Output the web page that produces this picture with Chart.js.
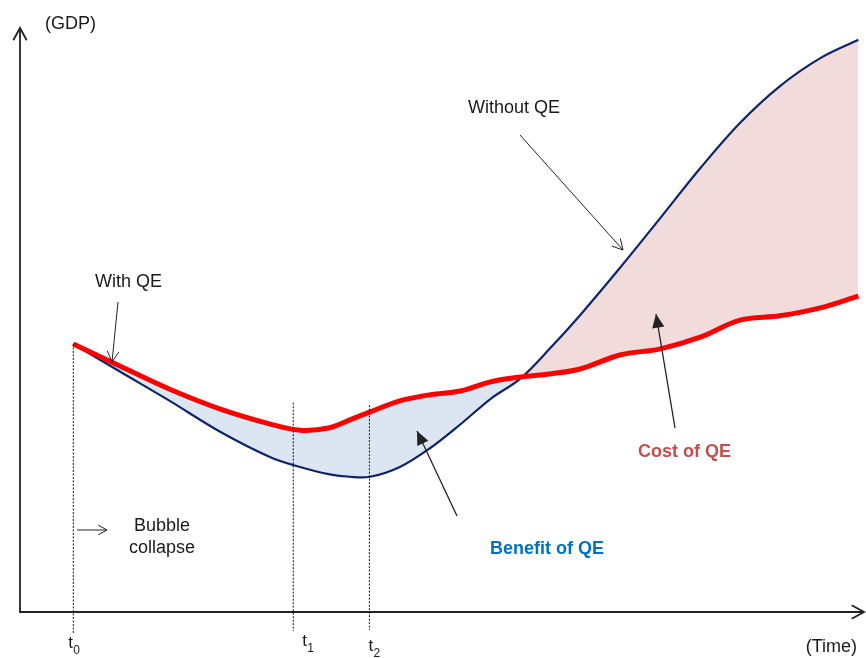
<!DOCTYPE html>
<html>
<head>
<meta charset="utf-8">
<script src="https://cdn.jsdelivr.net/npm/chart.js@4.4.1/dist/chart.umd.min.js"></script>
<style>
  html, body { margin: 0; padding: 0; background: #fff; }
  #wrap { width: 866px; height: 658px; position: relative; }
</style>
</head>
<body>
<div id="wrap"><canvas id="qeChart"></canvas></div>
<script>
// time axis (0..100) and GDP (0..100)
const timePoints = [6.3, 11.8, 17.7, 23.6, 29.6, 33.1, 36.6, 39.0, 41.4, 44.9, 48.5, 52.0, 55.6, 59.1, 62.6, 66.2, 70.9, 75.7, 80.4, 85.1, 89.8, 94.6, 99.1];
const withQE = [43.8, 40.2, 36.4, 33.2, 30.7, 29.7, 30.1, 31.4, 32.7, 34.5, 35.5, 36.1, 37.6, 38.4, 38.9, 39.7, 42.0, 43.0, 44.9, 47.7, 48.4, 49.7, 51.6];
const withoutQE = [43.8, 39.3, 34.5, 29.5, 25.3, 23.7, 22.5, 22.1, 22.1, 23.7, 26.8, 30.6, 34.8, 38.1, 43.0, 48.5, 56.2, 64.4, 72.5, 79.9, 85.9, 90.5, 93.5];
// t0, t1, t2 markers on the time axis and where their guide lines start
const markerLabels = ["0", "1", "2"];
const markerTimes = [6.3, 32.3, 41.3];
const markerTops = [43.8, 34.2, 33.8];

const toXY = (vals) => vals.map((v, i) => ({ x: timePoints[i], y: v }));

const FONT = "'Liberation Sans', Arial, sans-serif";

function arrowHead(ctx, x1, y1, x2, y2, size, filled) {
  const a = Math.atan2(y2 - y1, x2 - x1);
  const spread = filled ? 0.42 : 0.5;
  ctx.beginPath();
  ctx.moveTo(x2 - size * Math.cos(a - spread), y2 - size * Math.sin(a - spread));
  ctx.lineTo(x2, y2);
  ctx.lineTo(x2 - size * Math.cos(a + spread), y2 - size * Math.sin(a + spread));
  if (filled) {
    ctx.closePath();
    ctx.fill();
  } else {
    ctx.stroke();
  }
}

function arrow(ctx, x1, y1, x2, y2, opts) {
  const o = Object.assign({ color: "#222", width: 1, size: 11, filled: false }, opts);
  ctx.save();
  ctx.strokeStyle = o.color;
  ctx.fillStyle = o.color;
  ctx.lineWidth = o.width;
  ctx.beginPath();
  ctx.moveTo(x1, y1);
  ctx.lineTo(x2, y2);
  ctx.stroke();
  arrowHead(ctx, x1, y1, x2, y2, o.size, o.filled);
  ctx.restore();
}

function text(ctx, str, x, y, opts) {
  const o = Object.assign({ size: 18, weight: "normal", color: "#1a1a1a", align: "left" }, opts);
  ctx.save();
  ctx.font = o.weight + " " + o.size + "px " + FONT;
  ctx.fillStyle = o.color;
  ctx.textAlign = o.align;
  ctx.textBaseline = "alphabetic";
  ctx.fillText(str, x, y);
  ctx.restore();
}

// label positions for t0 / t1 / t2 (offset from guide line, baseline)
const tLabelDx = [-5, 9, -1];
const tLabelY = [648, 646, 651];
const tLineBottom = [634, 631, 630];

const annotations = {
  id: "annotations",
  afterDraw(chart) {
    const ctx = chart.ctx;
    const xs = chart.scales.x;
    const ys = chart.scales.y;
    const left = chart.chartArea.left;
    const bottom = chart.chartArea.bottom;

    // axes with open arrow heads
    arrow(ctx, left, bottom + 1, left, 28, { width: 1.8, size: 14 });
    arrow(ctx, left - 1, bottom, 864, bottom, { width: 1.8, size: 14 });

    // dotted guide lines + t labels
    markerTimes.forEach((t, i) => {
      const px = xs.getPixelForValue(t);
      ctx.save();
      ctx.strokeStyle = "#111";
      ctx.lineWidth = 1;
      ctx.setLineDash([2, 1.5]);
      ctx.beginPath();
      ctx.moveTo(px, ys.getPixelForValue(markerTops[i]));
      ctx.lineTo(px, tLineBottom[i]);
      ctx.stroke();
      ctx.restore();
      const lx = px + tLabelDx[i];
      const ly = tLabelY[i];
      text(ctx, "t", lx, ly, { size: 17 });
      text(ctx, markerLabels[i], lx + 5, ly + 6, { size: 12 });
    });

    text(ctx, "(GDP)", 45, 29);
    text(ctx, "(Time)", 857, 652, { align: "right" });

    text(ctx, "With QE", 95, 287);
    arrow(ctx, 118, 302, 112, 362, { size: 12 });

    text(ctx, "Without QE", 468, 113);
    arrow(ctx, 520, 135, 623, 250, { size: 12 });

    text(ctx, "Cost of QE", 638, 457, { weight: "bold", color: "#c0504d" });
    arrow(ctx, 675, 428, 656, 314, { size: 15, width: 1.3, filled: true });

    text(ctx, "Benefit of QE", 490, 554, { weight: "bold", color: "#0070c0" });
    arrow(ctx, 457, 516, 417, 431, { size: 15, width: 1.3, filled: true });

    arrow(ctx, 77, 530, 107, 530, { size: 10 });
    text(ctx, "Bubble", 162, 531, { align: "center" });
    text(ctx, "collapse", 162, 553, { align: "center" });
  }
};

new Chart(document.getElementById("qeChart"), {
  type: "line",
  data: {
    datasets: [
      {
        label: "With QE",
        data: toXY(withQE),
        borderColor: "#ff0000",
        borderWidth: 5,
        pointRadius: 0,
        tension: 0.35,
        fill: false
      },
      {
        label: "Without QE",
        data: toXY(withoutQE),
        borderColor: "#0f2466",
        borderWidth: 2.2,
        pointRadius: 0,
        tension: 0.35,
        fill: { target: 0, above: "#f2dcdb", below: "#dce6f2" }
      }
    ]
  },
  options: {
    responsive: true,
    maintainAspectRatio: false,
    animation: false,
    layout: { padding: { left: 20, right: 0, top: 0, bottom: 46 } },
    scales: {
      x: { type: "linear", min: 0, max: 100, display: false },
      y: { min: 0, max: 100, display: false }
    },
    plugins: {
      legend: { display: false },
      tooltip: { enabled: false }
    }
  },
  plugins: [annotations]
});
</script>
</body>
</html>
